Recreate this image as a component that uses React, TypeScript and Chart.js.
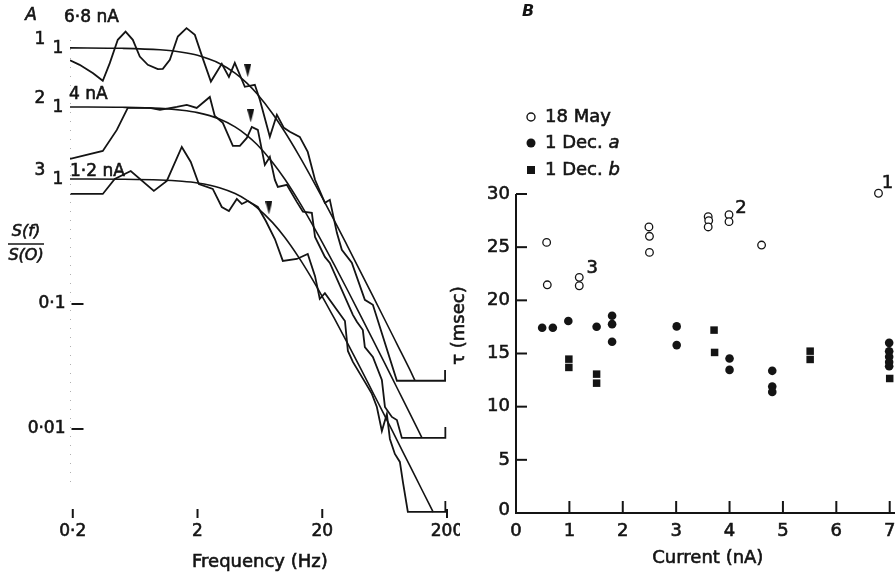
import React, { useEffect, useRef } from "react";
import { Chart, registerables } from "chart.js";

Chart.register(...registerables);

const FONT = "'DejaVu Sans', 'Liberation Sans', sans-serif";
const INK = "#141414";
const B_LEFT = 440;

// ---------------- Panel A : normalised spectra S(f)/S(0) ----------------
const curveCurrents = ["6·8 nA", "4 nA", "1·2 nA"];
const curveNumbers = ["1", "2", "3"];
const curveOffsets = [11.2, 3.77, 1.0];

const spec1Freq = [0.19, 0.227, 0.291, 0.348, 0.396, 0.459, 0.53, 0.606, 0.689, 0.799, 0.961, 1.054, 1.2, 1.39, 1.633, 1.904, 2.2, 2.56, 3.13, 3.57, 3.98, 4.79, 5.76, 6.32, 7.6, 8.65, 9.85, 11.0, 13.2, 15.3, 17.5, 21.0, 23.0, 26.2, 28.7, 34.5, 43.9, 50.9, 79.3, 193, 193];
const spec1Values = [0.794, 0.731, 0.627, 0.545, 0.754, 1.159, 1.35, 1.159, 0.852, 0.731, 0.675, 0.679, 0.802, 1.231, 1.438, 1.27, 0.827, 0.537, 0.745, 0.586, 0.759, 0.488, 0.506, 0.384, 0.194, 0.291, 0.229, 0.213, 0.194, 0.147, 0.0879, 0.0575, 0.0608, 0.0331, 0.0242, 0.0191, 0.00964, 0.00879, 0.00217, 0.00217, 0.00265];

const spec2Freq = [0.19, 0.348, 0.451, 0.552, 0.829, 1.0, 1.365, 1.64, 1.97, 2.51, 2.75, 3.19, 3.84, 4.37, 4.97, 5.45, 6.09, 6.93, 7.6, 8.34, 8.81, 10.4, 12.5, 14.0, 16.5, 17.5, 21.0, 23.0, 35.2, 37.9, 42.3, 43.9, 50.9, 60.1, 63.6, 72.3, 79.3, 86.9, 194, 194];
const spec2Values = [0.384, 0.445, 0.655, 0.982, 0.982, 0.946, 1.0, 1.038, 0.982, 1.202, 0.847, 0.745, 0.488, 0.488, 0.565, 0.692, 0.655, 0.344, 0.398, 0.261, 0.229, 0.238, 0.174, 0.145, 0.142, 0.0912, 0.0631, 0.0565, 0.0217, 0.0191, 0.0164, 0.012, 0.01, 0.00655, 0.00398, 0.00331, 0.00313, 0.00225, 0.00225, 0.00275];

const spec3Freq = [0.19, 0.348, 0.434, 0.583, 0.893, 1.135, 1.496, 1.766, 2.05, 2.65, 3.13, 3.57, 4.13, 4.53, 5.06, 6.09, 7.06, 8.34, 9.66, 12.5, 15.3, 17.5, 19.1, 21.0, 30.4, 32.1, 35.2, 43.9, 50.0, 54.8, 60.1, 65.9, 69.7, 76.4, 83.8, 88.6, 97.1, 194, 194];
const spec3Values = [0.759, 0.759, 1.0, 1.159, 0.802, 0.964, 1.803, 1.368, 0.912, 0.832, 0.597, 0.555, 0.692, 0.631, 0.667, 0.597, 0.461, 0.331, 0.221, 0.229, 0.251, 0.167, 0.11, 0.122, 0.0731, 0.0421, 0.0344, 0.0238, 0.0191, 0.015, 0.00964, 0.0132, 0.00832, 0.00631, 0.00545, 0.00377, 0.00217, 0.00217, 0.00265];

const fit1Freq = [0.19, 0.5, 1, 1.5, 2, 3, 4, 5, 6, 8, 10, 13, 16, 20, 25, 32, 40, 50, 63, 80, 100, 111];
const fit1Values = [0.999, 0.991, 0.964, 0.923, 0.871, 0.75, 0.628, 0.52, 0.429, 0.297, 0.213, 0.138, 0.0955, 0.0633, 0.0415, 0.0257, 0.0166, 0.0107, 0.00677, 0.00421, 0.0027, 0.00217];
const fit2Freq = [0.19, 0.5, 1, 1.5, 2, 3, 4, 5, 6, 8, 10, 13, 16, 20, 25, 32, 40, 50, 63, 80, 100, 126];
const fit2Values = [0.999, 0.993, 0.973, 0.941, 0.9, 0.8, 0.692, 0.59, 0.5, 0.36, 0.265, 0.1756, 0.1233, 0.0826, 0.0545, 0.034, 0.022, 0.0142, 0.00899, 0.00559, 0.00359, 0.00225];
const fit3Freq = [0.19, 0.5, 1, 1.5, 2, 3, 4, 5, 6, 8, 10, 13, 16, 20, 25, 32, 40, 50, 63, 80, 100, 125, 155];
const fit3Values = [0.999, 0.995, 0.981, 0.958, 0.928, 0.852, 0.764, 0.675, 0.59, 0.4475, 0.3414, 0.2347, 0.1684, 0.1147, 0.0766, 0.0482, 0.0314, 0.0203, 0.0129, 0.00803, 0.00516, 0.00331, 0.00216];

const arrowFreq = [5.05, 5.34, 7.47];
const arrowLevel = [0.655, 0.847, 0.586];

const freqTicks = [0.2, 2, 20, 200];
const freqTickLabels = ["0·2", "2", "20", "200"];
const ratioTicks = [0.1, 0.01];
const ratioTickLabels = ["0·1", "0·01"];

// ---------------- Panel B : time constant vs current ----------------
const may18Current = [0.574, 0.586, 1.185, 1.185, 2.49, 2.5, 2.5, 3.6, 3.61, 3.6, 3.99, 3.99, 4.6, 6.79];
const may18Tau = [25.45, 21.46, 22.16, 21.37, 26.9, 26.02, 24.51, 27.87, 27.5, 26.9, 28.05, 27.4, 25.2, 30.07];

const dec1aCurrent = [0.49, 0.69, 0.98, 1.51, 1.8, 1.8, 1.8, 3.01, 3.01, 4.0, 4.0, 4.8, 4.8, 4.8, 6.99, 6.99, 6.99, 6.99, 6.99];
const dec1aTau = [17.42, 17.42, 18.05, 17.51, 18.55, 17.76, 16.1, 17.55, 15.79, 14.53, 13.46, 13.37, 11.9, 11.39, 16.0, 15.2, 14.7, 14.2, 13.8];

const dec1bCurrent = [0.99, 0.99, 1.51, 1.51, 3.71, 3.72, 5.51, 5.51, 7.0];
const dec1bTau = [14.47, 13.69, 13.06, 12.21, 17.2, 15.1, 15.22, 14.44, 12.65];

const currentTicks = [0, 1, 2, 3, 4, 5, 6, 7];
const tauTicks = [0, 5, 10, 15, 20, 25, 30];

const pointLabels = ["1", "2", "3"];
const pointLabelAt = [13, 10, 2]; // indices into the 18 May series

// ---------------- helpers ----------------
const toXY = (xs: number[], ys: number[], k = 1) => xs.map((v, i) => ({ x: v, y: ys[i] * k }));

// print-like heavier text: fill plus a hairline stroke
function T(ctx: CanvasRenderingContext2D, s: string, x: number, y: number) {
  ctx.fillText(s, x, y);
  ctx.save();
  ctx.lineWidth = 0.6;
  ctx.strokeStyle = INK;
  ctx.setLineDash([]);
  ctx.strokeText(s, x, y);
  ctx.restore();
}

function makeArrow(): HTMLCanvasElement {
  const c = document.createElement("canvas");
  c.width = 7;
  c.height = 13;
  const g = c.getContext("2d")!;
  g.fillStyle = INK;
  g.beginPath();
  g.moveTo(0, 0);
  g.lineTo(7, 0);
  g.lineTo(3.5, 13);
  g.closePath();
  g.fill();
  return c;
}

const panelADecor = {
  id: "panelADecor",
  afterDraw(chart: any) {
    const { ctx, chartArea: area } = chart;
    const x = chart.scales.x;
    const y = chart.scales.y;
    ctx.save();
    ctx.fillStyle = INK;
    ctx.strokeStyle = INK;

    // faint dotted ordinate
    const ax = Math.round(area.left) + 0.5;
    ctx.save();
    ctx.strokeStyle = "#b0b0b0";
    ctx.lineWidth = 1;
    ctx.setLineDash([1, 8]);
    ctx.beginPath();
    ctx.moveTo(ax, 40);
    ctx.lineTo(ax, 490);
    ctx.stroke();
    ctx.restore();

    // ordinate ticks
    ctx.font = `17px ${FONT}`;
    ctx.textAlign = "right";
    ctx.textBaseline = "middle";
    ctx.lineWidth = 2;
    ratioTicks.forEach((v, i) => {
      const py = y.getPixelForValue(v);
      T(ctx, ratioTickLabels[i], ax - 5, py);
      ctx.beginPath();
      ctx.moveTo(ax + 1, py);
      ctx.lineTo(ax + 13, py);
      ctx.stroke();
    });

    // abscissa ticks
    ctx.textAlign = "center";
    freqTicks.forEach((v, i) => {
      const px = x.getPixelForValue(v);
      ctx.lineWidth = 2;
      ctx.beginPath();
      ctx.moveTo(px, area.bottom - 6);
      ctx.lineTo(px, area.bottom + 3);
      ctx.stroke();
      T(ctx, freqTickLabels[i], px, area.bottom + 17);
    });
    const cx = (x.getPixelForValue(freqTicks[0]) + x.getPixelForValue(freqTicks[freqTicks.length - 1])) / 2;
    ctx.font = `18px ${FONT}`;
    T(ctx, "Frequency (Hz)", cx, area.bottom + 47);

    // ordinate title S(f)/S(O)
    ctx.font = `italic 16px ${FONT}`;
    T(ctx, "S(f)", 26, 232);
    T(ctx, "S(O)", 26, 256);
    ctx.lineWidth = 1.5;
    ctx.beginPath();
    ctx.moveTo(8, 244);
    ctx.lineTo(44, 244);
    ctx.stroke();

    // curve labels
    const curLabelDx = [64, 69, 70];
    const curLabelDy = [-30, -12, -7];
    curveOffsets.forEach((off, k) => {
      const py = y.getPixelForValue(off);
      ctx.font = `17px ${FONT}`;
      ctx.textAlign = "center";
      T(ctx, curveNumbers[k], 40, py - 8);
      T(ctx, "1", 58, py + 1);
      ctx.textAlign = "left";
      T(ctx, curveCurrents[k], curLabelDx[k], py + curLabelDy[k]);
    });

    ctx.font = `italic 17px ${FONT}`;
    ctx.textAlign = "center";
    T(ctx, "A", 31, 16);
    ctx.restore();
  },
};

const panelBDecor = {
  id: "panelBDecor",
  afterDraw(chart: any) {
    const { ctx } = chart;
    const x = chart.scales.x;
    const y = chart.scales.y;
    const x0 = x.getPixelForValue(0);
    const y0 = y.getPixelForValue(0);
    const P = (pageX: number) => pageX - B_LEFT;
    ctx.save();
    ctx.fillStyle = INK;
    ctx.strokeStyle = INK;
    ctx.lineWidth = 2;

    // axes
    ctx.beginPath();
    ctx.moveTo(x0, y.getPixelForValue(tauTicks[tauTicks.length - 1]));
    ctx.lineTo(x0, y0);
    ctx.lineTo(chart.width, y0);
    ctx.stroke();

    ctx.font = `18px ${FONT}`;
    ctx.textBaseline = "middle";
    ctx.textAlign = "right";
    tauTicks.forEach((v) => {
      const py = y.getPixelForValue(v);
      if (v > 0) {
        ctx.lineWidth = 2;
        ctx.beginPath();
        ctx.moveTo(x0, py);
        ctx.lineTo(x0 + 11, py);
        ctx.stroke();
      }
      T(ctx, String(v), x0 - 6, v === 0 ? py - 3 : py);
    });
    ctx.textAlign = "center";
    currentTicks.forEach((v) => {
      const px = x.getPixelForValue(v);
      if (v > 0) {
        ctx.lineWidth = 2;
        ctx.beginPath();
        ctx.moveTo(px, y0);
        ctx.lineTo(px, y0 - 12);
        ctx.stroke();
      }
      T(ctx, String(v), px, y0 + 18);
    });

    // titles
    const cx = (x.getPixelForValue(0) + x.getPixelForValue(7)) / 2 + 5;
    T(ctx, "Current (nA)", cx, y0 + 45);
    ctx.save();
    ctx.translate(P(459), (y.getPixelForValue(0) + y.getPixelForValue(30)) / 2 - 28);
    ctx.rotate(-Math.PI / 2);
    T(ctx, "τ (msec)", 0, 0);
    ctx.restore();

    // legend
    const lx = P(531);
    const tx = P(545);
    const ly = [117, 143, 170];
    ctx.lineWidth = 1.4;
    ctx.beginPath();
    ctx.arc(lx, ly[0], 4, 0, Math.PI * 2);
    ctx.stroke();
    ctx.beginPath();
    ctx.arc(lx, ly[1], 4.5, 0, Math.PI * 2);
    ctx.fill();
    ctx.fillRect(lx - 4, ly[2] - 4, 8, 8);
    ctx.textAlign = "left";
    ctx.font = `18px ${FONT}`;
    T(ctx, "18 May", tx, ly[0]);
    const base = "1 Dec. ";
    T(ctx, base, tx, ly[1]);
    T(ctx, base, tx, ly[2]);
    const w = ctx.measureText(base).width;
    ctx.font = `italic 18px ${FONT}`;
    T(ctx, "a", tx + w, ly[1]);
    T(ctx, "b", tx + w, ly[2]);

    // point numbers
    const dxy = [
      [9, -10],
      [12, -6],
      [13, -9],
    ];
    ctx.font = `18px ${FONT}`;
    ctx.textAlign = "center";
    pointLabels.forEach((lab, i) => {
      const j = pointLabelAt[i];
      const px = x.getPixelForValue(may18Current[j]);
      const py = y.getPixelForValue(may18Tau[j]);
      T(ctx, lab, px + dxy[i][0], py + dxy[i][1]);
    });

    ctx.font = `italic bold 16px ${FONT}`;
    ctx.fillText("B", P(528), 12);
    ctx.restore();
  },
};

function configA(): any {
  const arrow = makeArrow();
  const specs = [
    [spec1Freq, spec1Values],
    [spec2Freq, spec2Values],
    [spec3Freq, spec3Values],
  ];
  const fits = [
    [fit1Freq, fit1Values],
    [fit2Freq, fit2Values],
    [fit3Freq, fit3Values],
  ];
  const datasets: any[] = [];
  specs.forEach(([f, v], k) => {
    datasets.push({
      data: toXY(f, v, curveOffsets[k]),
      borderColor: INK,
      borderWidth: 1.8,
      pointRadius: 0,
      tension: 0,
      fill: false,
    });
  });
  fits.forEach(([f, v], k) => {
    datasets.push({
      data: toXY(f, v, curveOffsets[k]),
      borderColor: INK,
      borderWidth: 1.6,
      pointRadius: 0,
      cubicInterpolationMode: "monotone",
      fill: false,
    });
  });
  datasets.push({
    data: arrowFreq.map((f, k) => ({ x: f, y: arrowLevel[k] * curveOffsets[k] })),
    showLine: false,
    pointStyle: arrow,
    pointRadius: 6,
    borderWidth: 0,
  });
  return {
    type: "line",
    data: { datasets },
    options: {
      animation: false,
      responsive: false,
      events: [],
      layout: { padding: { left: 70, right: 13, top: 20, bottom: 60 } },
      plugins: { legend: { display: false }, tooltip: { enabled: false } },
      scales: {
        x: { type: "logarithmic", min: 0.19, max: 200, display: false },
        y: { type: "logarithmic", min: 0.00205, max: 18.7, display: false },
      },
    },
    plugins: [panelADecor],
  };
}

function configB(): any {
  return {
    type: "scatter",
    data: {
      datasets: [
        {
          label: "18 May",
          data: toXY(may18Current, may18Tau),
          pointStyle: "circle",
          pointRadius: 3.8,
          borderWidth: 1.3,
          borderColor: INK,
          backgroundColor: "#ffffff",
          clip: false,
        },
        {
          label: "1 Dec. a",
          data: toXY(dec1aCurrent, dec1aTau),
          pointStyle: "circle",
          pointRadius: 4.3,
          borderWidth: 0,
          backgroundColor: INK,
          clip: false,
        },
        {
          label: "1 Dec. b",
          data: toXY(dec1bCurrent, dec1bTau),
          pointStyle: "rect",
          pointRadius: 5.3,
          borderWidth: 0,
          backgroundColor: INK,
          clip: false,
        },
      ],
    },
    options: {
      animation: false,
      responsive: false,
      events: [],
      layout: { padding: { left: 516 - B_LEFT, right: 5, top: 194, bottom: 62 } },
      plugins: { legend: { display: false }, tooltip: { enabled: false } },
      scales: {
        x: { type: "linear", min: 0, max: 7, display: false },
        y: { type: "linear", min: 0, max: 30, display: false },
      },
    },
    plugins: [panelBDecor],
  };
}

export default function App() {
  const refA = useRef<HTMLCanvasElement>(null);
  const refB = useRef<HTMLCanvasElement>(null);
  useEffect(() => {
    const a = new Chart(refA.current!, configA());
    const b = new Chart(refB.current!, configB());
    return () => {
      a.destroy();
      b.destroy();
    };
  }, []);
  return (
    <div style={{ position: "fixed", left: 0, top: 0, width: 895, height: 575, background: "#fff", overflow: "hidden" }}>
      <canvas ref={refA} width={460} height={575} style={{ position: "absolute", left: 0, top: 0, width: 460, height: 575 }} />
      <canvas ref={refB} width={895 - B_LEFT} height={575} style={{ position: "absolute", left: B_LEFT, top: 0, width: 895 - B_LEFT, height: 575 }} />
    </div>
  );
}
